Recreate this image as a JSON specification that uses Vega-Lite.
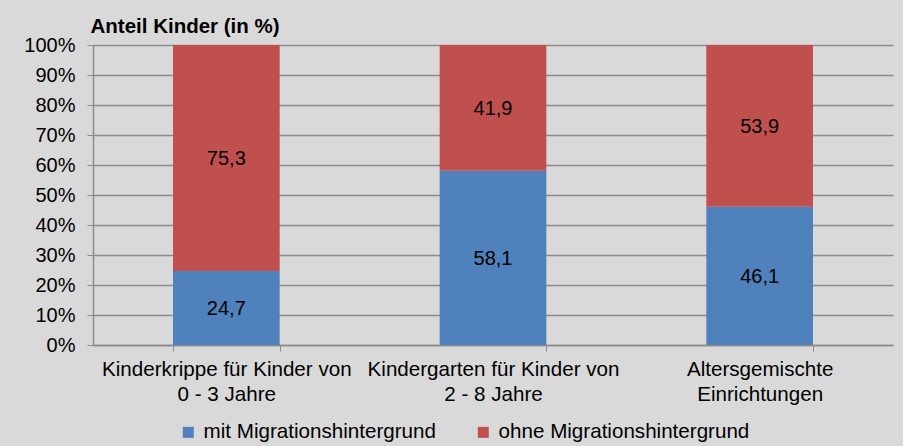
{
  "$schema": "https://vega.github.io/schema/vega-lite/v6.json",
  "width": 800,
  "height": 300,
  "autosize": {"type": "none"},
  "padding": {"left": 93, "top": 45, "right": 10, "bottom": 101},
  "background": "#d9d9d9",
  "config": {
    "locale": {"number": {"decimal": ",", "thousands": ".", "grouping": [3], "currency": ["", " €"]}},
    "view": {"stroke": null},
    "font": "Liberation Sans",
    "axisY": {
      "labelFontSize": 20,
      "labelColor": "#000000",
      "labelFont": "Liberation Sans",
      "labelPadding": 12,
      "labelOverlap": false,
      "tickSize": 6,
      "tickColor": "#8c8c8c",
      "domainColor": "#8c8c8c",
      "domainWidth": 1.5,
      "gridColor": "#8c8c8c",
      "gridWidth": 1.5,
      "grid": true
    }
  },
  "data": {
    "values": [
      {"cat": "Kinderkrippe für Kinder von|0 - 3 Jahre", "group": "mit Migrationshintergrund", "value": 24.7, "o": 1},
      {"cat": "Kinderkrippe für Kinder von|0 - 3 Jahre", "group": "ohne Migrationshintergrund", "value": 75.3, "o": 2},
      {"cat": "Kindergarten für Kinder von|2 - 8 Jahre", "group": "mit Migrationshintergrund", "value": 58.1, "o": 1},
      {"cat": "Kindergarten für Kinder von|2 - 8 Jahre", "group": "ohne Migrationshintergrund", "value": 41.9, "o": 2},
      {"cat": "Altersgemischte|Einrichtungen", "group": "mit Migrationshintergrund", "value": 46.1, "o": 1},
      {"cat": "Altersgemischte|Einrichtungen", "group": "ohne Migrationshintergrund", "value": 53.9, "o": 2}
    ]
  },
  "encoding": {
    "x": {
      "field": "cat",
      "type": "nominal",
      "sort": null,
      "scale": {"paddingInner": 0.6, "paddingOuter": 0.3},
      "axis": {
        "title": null,
        "labelAngle": 0,
        "labelExpr": "split(datum.label, '|')",
        "labelFontSize": 20.6,
        "labelColor": "#000000",
        "labelLineHeight": 25,
        "labelPadding": 8,
        "labelLimit": 0,
        "tickBand": "extent",
        "tickSize": 6,
        "tickColor": "#8c8c8c",
        "domainColor": "#8c8c8c",
        "domainWidth": 1.5,
        "labelFont": "Liberation Sans"
      }
    }
  },
  "layer": [
    {
      "mark": {"type": "bar"},
      "encoding": {
        "y": {
          "field": "value",
          "type": "quantitative",
          "stack": "zero",
          "scale": {"domain": [0, 100], "nice": false},
          "axis": {
            "title": "Anteil Kinder (in %)",
            "titleAngle": 0,
            "titleAlign": "left",
            "titleBaseline": "alphabetic",
            "titleX": -3,
            "titleY": -13,
            "titleFontSize": 20.5,
            "titleFontWeight": "bold",
            "titleFont": "Liberation Sans",
            "titleColor": "#000000",
            "values": [0, 10, 20, 30, 40, 50, 60, 70, 80, 90, 100],
            "labelExpr": "datum.value + '%'"
          }
        },
        "color": {
          "field": "group",
          "type": "nominal",
          "scale": {
            "domain": ["mit Migrationshintergrund", "ohne Migrationshintergrund"],
            "range": ["#4f81bd", "#c0504d"]
          },
          "legend": {
            "title": null,
            "orient": "none",
            "legendX": 85,
            "legendY": 377,
            "direction": "horizontal",
            "symbolType": "square",
            "symbolSize": 121,
            "symbolStrokeWidth": 0,
            "labelFontSize": 20.6,
            "labelFont": "Liberation Sans",
            "labelColor": "#000000",
            "labelOffset": 5,
            "labelLimit": 0,
            "columnPadding": 37,
            "padding": 0
          }
        },
        "order": {"field": "o", "type": "quantitative"}
      }
    },
    {
      "transform": [
        {"stack": "value", "groupby": ["cat"], "sort": [{"field": "o"}], "as": ["v0", "v1"]},
        {"calculate": "(datum.v0 + datum.v1) / 2", "as": "mid"}
      ],
      "mark": {"type": "text", "fontSize": 20, "font": "Liberation Sans", "color": "#000000", "baseline": "middle", "dy": 1}, 
      "encoding": {
        "y": {
          "field": "mid",
          "type": "quantitative",
          "axis": {
            "title": "Anteil Kinder (in %)",
            "values": [0, 10, 20, 30, 40, 50, 60, 70, 80, 90, 100],
            "labelExpr": "datum.value + '%'"
          }
        },
        "text": {"field": "value", "type": "quantitative", "format": ".1f"}
      }
    }
  ]
}
